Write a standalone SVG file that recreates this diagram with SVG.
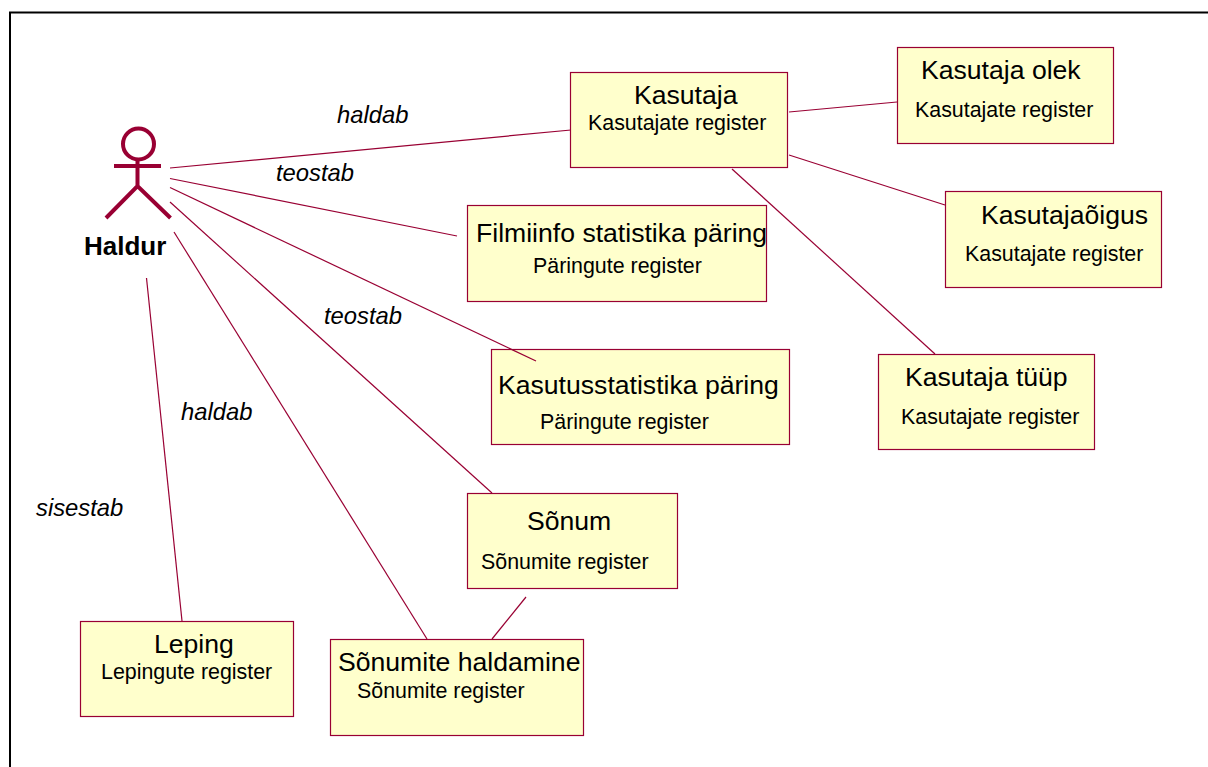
<svg xmlns="http://www.w3.org/2000/svg" width="1208" height="767" viewBox="0 0 1208 767">
<style>
text{font-family:"Liberation Sans",Arial,sans-serif;fill:#000}
.b{fill:#ffc;stroke:#990033;stroke-width:1.2}
.t{font-size:26.6px}
.s{font-size:21.4px}
.l{font-size:23.8px;font-style:italic}
#connectors line{stroke:#990033;stroke-width:1.2;fill:none}
.a{stroke:#990033;stroke-width:4;fill:none}
</style>
<rect width="1208" height="767" fill="#fff"/>
<path d="M10 767V12.500H1208" fill="none" stroke="#000" stroke-width="2"/>
<g id="actor-haldur">
<circle class="a" cx="138.500" cy="144" r="15.500"/>
<path class="a" d="M114 166H161M137.500 160V186M106 218L137.500 186L170.500 218"/>
<text x="84" y="255" font-size="26" font-weight="bold">Haldur</text>
</g>
<g id="node-kasutaja"><rect class="b" x="570.500" y="72.500" width="217" height="95"/><text class="t" x="634" y="104">Kasutaja</text><text class="s" x="588" y="130">Kasutajate register</text></g>
<g id="node-kasutaja-olek"><rect class="b" x="897.500" y="47.500" width="216" height="96"/><text class="t" x="921" y="79">Kasutaja olek</text><text class="s" x="915" y="117">Kasutajate register</text></g>
<g id="node-kasutajaoigus"><rect class="b" x="945.500" y="191.500" width="216" height="96"/><text class="t" x="981" y="224">Kasutajaõigus</text><text class="s" x="965" y="261">Kasutajate register</text></g>
<g id="node-kasutaja-tuup"><rect class="b" x="878.500" y="354.500" width="216" height="95"/><text class="t" x="905" y="386">Kasutaja tüüp</text><text class="s" x="901" y="424">Kasutajate register</text></g>
<g id="node-filmiinfo"><rect class="b" x="467.500" y="205.500" width="299" height="96"/><text class="t" x="476" y="242">Filmiinfo statistika päring</text><text class="s" x="533" y="273">Päringute register</text></g>
<g id="node-kasutusstatistika"><rect class="b" x="491.500" y="349.500" width="298" height="95"/><text class="t" x="498" y="394">Kasutusstatistika päring</text><text class="s" x="540" y="429">Päringute register</text></g>
<g id="node-sonum"><rect class="b" x="467.500" y="493.500" width="210" height="95"/><text class="t" x="527" y="530">Sõnum</text><text class="s" x="481" y="569">Sõnumite register</text></g>
<g id="node-sonumite-haldamine"><rect class="b" x="330.500" y="639.500" width="253" height="96"/><text class="t" x="338" y="671">Sõnumite haldamine</text><text class="s" x="357" y="698">Sõnumite register</text></g>
<g id="node-leping"><rect class="b" x="80.500" y="621.500" width="213" height="95"/><text class="t" x="154" y="653">Leping</text><text class="s" x="101" y="679">Lepingute register</text></g>
<g id="connectors">
<line x1="170" y1="168" x2="571" y2="130"/>
<line x1="170" y1="178.500" x2="457" y2="236"/>
<line x1="170" y1="187.500" x2="536" y2="361"/>
<line x1="170" y1="202" x2="492" y2="493"/>
<line x1="174" y1="232" x2="427" y2="639"/>
<line x1="146.500" y1="278" x2="182" y2="621"/>
<line x1="789" y1="112" x2="897" y2="102"/>
<line x1="789" y1="155" x2="945" y2="205"/>
<line x1="732" y1="169" x2="935" y2="354"/>
<line x1="526" y1="597" x2="492" y2="639"/>
</g>
<g id="labels">
<text class="l" x="337" y="123">haldab</text>
<text class="l" x="276" y="181">teostab</text>
<text class="l" x="324" y="324">teostab</text>
<text class="l" x="181" y="420">haldab</text>
<text class="l" x="36" y="516">sisestab</text>
</g>
</svg>
